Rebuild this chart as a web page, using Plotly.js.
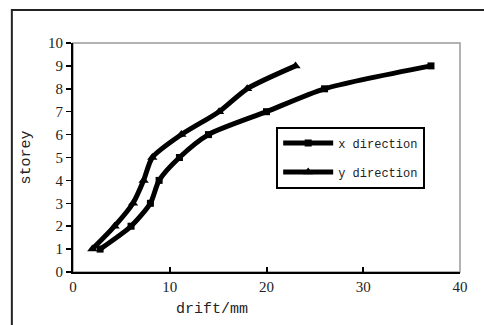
<!DOCTYPE html>
<html><head><meta charset="utf-8">
<script src="https://cdn.plot.ly/plotly-3.0.1.min.js"></script>
<style>html,body{margin:0;padding:0;background:#fff}#plot{width:484px;height:325px}</style>
</head><body><div id="plot"></div>
<script>
const storeys = [1,2,3,4,5,6,7,8,9];
const xDirection = [2.8,6.0,8.0,8.9,11.0,14.0,20.0,26.0,37.0];
const yDirection = [2.0,4.3,6.2,7.3,8.2,11.2,15.1,18.0,23.0];
const seriesNames = ['x direction','y direction'];
const xTicks = [0,10,20,30,40];
const yTicks = [0,1,2,3,4,5,6,7,8,9,10];

const numFont = {family:'Liberation Serif', size:15, color:'#222'};
const txtFont = {family:'Liberation Mono', size:12, color:'#222'};

const traces = [
  {x:xDirection, y:storeys, name:seriesNames[0], mode:'lines+markers', legendgroup:'a',
   line:{color:'#000', width:5, shape:'spline', smoothing:0.7},
   marker:{symbol:'square', size:7, color:'#000'}},
  {x:yDirection, y:storeys, name:seriesNames[1], mode:'lines+markers', legendgroup:'b',
   line:{color:'#000', width:5, shape:'spline', smoothing:0.7},
   marker:{symbol:'triangle-up', size:9, color:'#000'}}
];

const layout = {
  width:484, height:325,
  margin:{l:73, r:24, t:43, b:53},
  paper_bgcolor:'#fff', plot_bgcolor:'#fff',
  showlegend:true,
  legend:{x:0.525, y:0.635, xanchor:'left', yanchor:'top',
    bordercolor:'#000', borderwidth:2, bgcolor:'#fff',
    font:txtFont, tracegroupgap:10, itemwidth:50},
  xaxis:{range:[0,40], tickvals:xTicks, ticktext:xTicks.map(String),
    showgrid:false, zeroline:false, showline:true, linecolor:'#000', linewidth:2,
    ticks:'inside', ticklen:5, tickwidth:2, tickcolor:'#000',
    tickfont:numFont, fixedrange:true},
  yaxis:{range:[0,10], tickvals:yTicks, ticktext:yTicks.map(String),
    showgrid:false, zeroline:false, showline:true, linecolor:'#000', linewidth:2,
    ticks:'outside', ticklen:5, tickwidth:1.5, tickcolor:'#000',
    tickfont:numFont, fixedrange:true,
    title:{text:'storey', font:{family:'Liberation Mono', size:15, color:'#222'}, standoff:14}},
  annotations:[
    {text:'drift/mm', xref:'paper', yref:'paper', x:0.36, y:-0.12,
     xanchor:'center', yanchor:'top', showarrow:false,
     font:{family:'Liberation Mono', size:15, color:'#222'}}
  ],
  shapes:[
    {type:'rect', xref:'paper', yref:'paper', x0:0, x1:1, y0:0, y1:1,
     line:{color:'#999', width:1.5}, layer:'below'},
    {type:'rect', xref:'paper', yref:'paper', x0:-0.158, x1:1.08, y0:-0.3, y1:1.144,
     line:{color:'#222', width:2}}
  ]
};
Plotly.newPlot('plot', traces, layout, {staticPlot:true, displayModeBar:false});
</script></body></html>
